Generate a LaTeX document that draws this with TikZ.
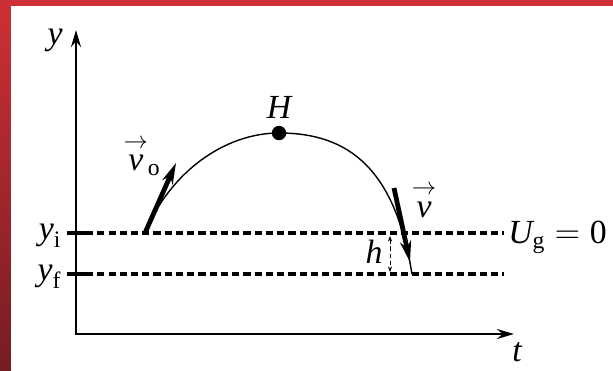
\documentclass[tikz,border=0pt]{standalone}
\usepackage{amsmath}
\usepackage{fontspec}
\setmainfont{Liberation Serif}
\usetikzlibrary{arrows.meta, positioning}

\definecolor{framered}{RGB}{205,48,52}
\definecolor{framedark}{RGB}{118,28,36}

\begin{document}
\begin{tikzpicture}[
    x=0.025cm, y=-0.025cm,
    axis/.style     = {line width=2pt, {Stealth[length=12pt, width=7pt]}-{Stealth[length=12pt, width=7pt]}},
    level/.style    = {line width=2.2pt, dash pattern=on 5pt off 3pt},
    tickmark/.style = {line width=2.6pt},
    trajline/.style = {line width=1pt},
    velo/.style     = {line width=3.4pt, -{Stealth[length=15pt, width=8pt]}},
    hmark/.style    = {line width=0.6pt, densely dashed, {Stealth[length=4pt, width=3pt]}-{Stealth[length=4pt, width=3pt]}},
    dot/.style      = {circle, fill=black, inner sep=0pt, minimum size=0.36cm},
    lbl/.style      = {inner sep=0pt, font=\fontsize{24}{28}\selectfont}
]
    \useasboundingbox (0,0) rectangle (613,370);

    % --- Rahmen ---
    \fill[framered] (0,0) rectangle (613,370);
    \shade[top color=framered, bottom color=framedark] (0,5) rectangle (11,370);
    \fill[white] (11,6) rectangle (613,370);

    % --- Achsen ---
    \coordinate (O)    at (76,334);
    \coordinate (ytip) at (76,30);
    \coordinate (ttip) at (514,334);
    \draw[axis] (ytip) -- (O) -- (ttip);
    \node (ylab) [lbl] at (55,40) {$\textit{y}$};
    \node (tlab) [lbl] at (517,352) {$\textit{t}$};

    % --- Niveaus y_i und y_f ---
    \coordinate (yiL) at (67,233);
    \coordinate (yiT) at (86,233);
    \coordinate (yiR) at (504,233);
    \coordinate (yfL) at (67,274);
    \coordinate (yfT) at (86,274);
    \coordinate (yfR) at (504,274);
    \draw[tickmark] (yiL) -- (yiT);
    \draw[tickmark] (yfL) -- (yfT);
    \draw[level] (yiT) -- (yiR);
    \draw[level] (yfT) -- (yfR);
    \node (yi) [lbl, left=4pt of yiL, yshift=-2pt] {$\textit{y}_{\textrm{i}}$};
    \node (yf) [lbl, left=4pt of yfL, yshift=-2pt] {$\textit{y}_{\textrm{f}}$};
    \node (ug) [lbl, anchor=west] at (508,237) {$\textit{U}_{\textrm{g}} = \textrm{0}$};

    % --- Bahn ---
    \coordinate (launch) at (145,233);
    \coordinate (land)   at (412,274);
    \node (peak) [dot] at (279,133) {};
    \node (H) [lbl, above=5pt of peak] {$\textit{H}$};
    \draw[trajline] (launch) .. controls (170,172) and (225,133) .. (peak.center)
                            .. controls (350,133) and (395,170) .. (land);

    % --- Geschwindigkeiten ---
    \coordinate (v0tip) at (176,163);
    \coordinate (vtail) at (394,188);
    \coordinate (vtip)  at (410,262);
    \draw[velo] (launch) -- (v0tip);
    \draw[velo] (vtail) -- (vtip);
    \node (v0) [lbl] at (142,156) {$\overset{\rightarrow}{\textit{v}}_{\textrm{o}}$};
    \node (v)  [lbl] at (424,200) {$\overset{\rightarrow}{\textit{v}}$};

    % --- Hoehe h ---
    \coordinate (htop) at (390,236);
    \coordinate (hbot) at (390,272);
    \draw[hmark] (htop) -- (hbot);
    \node (h) [lbl] at (374,252) {$\textit{h}$};
\end{tikzpicture}
\end{document}
